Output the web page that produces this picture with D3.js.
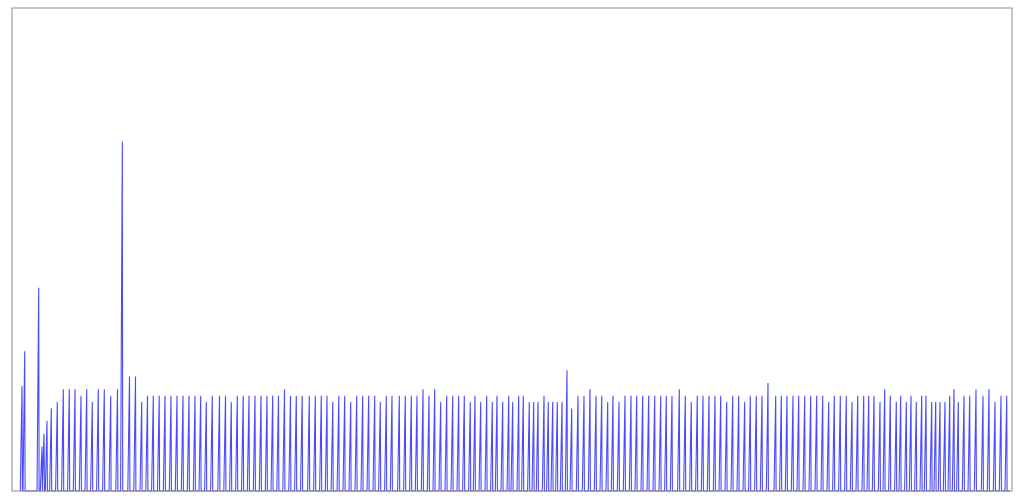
<!DOCTYPE html>
<html>
<head>
<meta charset="utf-8">
<script src="https://cdn.jsdelivr.net/npm/d3@7"></script>
<style>
  html, body { margin: 0; padding: 0; background: #fff; }
  svg { display: block; }
</style>
</head>
<body>
<svg id="chart" width="1024" height="500"></svg>
<script>
// Spike sample times (time units)
const spikeTimes = [
  10, 12.7, 26.7, 30, 32, 35, 39.3, 45.3, 51.3, 57.3, 63, 69, 74.7, 80.3, 86.3, 92.3, 98.7, 105.5, 110.3, 117.5,
  123.5, 129.7, 135.5, 141.3, 147.2, 153, 159, 165, 171, 177, 183, 188.7, 194.3, 200.3, 207.5, 213.5, 219.3, 225.3, 231.2, 237,
  243, 249, 255, 260.7, 266.5, 272.5, 278.5, 284.3, 290.2, 297.3, 303.3, 309.3, 315, 320.8, 326.8, 332.7,
  338.7, 344.7, 350.7, 356.7, 362.7, 368.3, 374.3, 380, 387.3, 393.3, 399.3, 405, 411, 417, 422.7, 428.7, 434.7, 440.7, 446.7, 452.3,
  458.3, 463, 468.7, 474.7, 480.3, 485, 490.7, 496.7, 500.7, 506.7, 511.3, 517.3, 521.7, 526, 532, 536.3, 540.7, 545.3, 550, 555,
  559.7, 566, 572, 578, 584, 589.7, 595.7, 601, 607, 613, 619, 624.7, 630.7, 636.7, 642.7, 648.7, 654.3, 660, 667.3,
  673.3, 679.3, 685.3, 691, 697, 703, 708.7, 714.7, 720.7, 726.7, 732.7, 738.3, 744.3, 750, 756, 763.7, 769.3, 775, 781, 786.7,
  792.7, 798.7, 804.7, 810.7, 816.7, 822.3, 828.3, 834.3, 840, 845.7, 851.7, 856.7, 862, 868, 872.7, 878.3, 884.3, 888.7, 894.3, 899,
  904.3, 909.7, 914, 919.7, 923.7, 928, 933, 937.7, 942, 946.3, 952, 957.7, 964, 971, 977, 983, 989, 994.7
];
// Spike values
const spikeValues = [
  16.5, 22, 32, 7, 9, 11, 13, 14, 16, 16, 16, 15, 16, 14, 16, 16, 15, 16, 55, 18,
  18, 14, 15, 15, 15, 15, 15, 15, 15, 15, 15, 15, 14, 15, 15, 15, 14, 15, 15, 15,
  15, 15, 15, 15, 15, 16, 15, 15, 15, 15, 15, 15, 15, 14, 15, 15,
  14, 15, 15, 15, 15, 14, 15, 15, 15, 15, 15, 15, 16, 15, 16, 14, 15, 15, 15, 15,
  14, 15, 14, 15, 14, 15, 14, 15, 14, 15, 15, 14, 14, 14, 15, 14, 14, 14, 14, 19,
  13, 15, 15, 16, 15, 15, 14, 15, 14, 15, 15, 15, 15, 15, 15, 15, 15, 15, 16,
  15, 14, 15, 15, 15, 15, 15, 14, 15, 15, 14, 15, 15, 15, 17, 15, 15, 15, 15, 15,
  15, 15, 15, 15, 14, 15, 15, 15, 14, 15, 15, 15, 15, 14, 16, 15, 14, 15, 14, 15,
  14, 15, 15, 14, 14, 14, 14, 15, 16, 14, 15, 15, 16, 15, 16, 14, 15, 15
];
const timeDomain = [0, 1000];
const valueDomain = [0, 76];

const svg = d3.select("#chart");
const margin = { left: 12, right: 12, top: 8, bottom: 9 };
const W = 1024, H = 500;

const x = d3.scaleLinear().domain(timeDomain).range([margin.left, W - margin.right]);
const y = d3.scaleLinear().domain(valueDomain).range([H - margin.bottom, margin.top]);

// Build line: baseline -> spike peak -> baseline for each sample
const pts = [];
spikeTimes.forEach((t, i) => {
  pts.push({ t: t - 1.7, v: 0 });
  pts.push({ t: t, v: spikeValues[i] });
  pts.push({ t: t + 0.4, v: 0 });
});
pts.push({ t: timeDomain[1] - 2, v: 0 });

const line = d3.line().x(d => x(d.t)).y(d => y(d.v));

svg.append("path")
  .datum(pts)
  .attr("fill", "none")
  .attr("stroke", "#4a4aff")
  .attr("stroke-width", 1.1)
  .attr("d", line);

// Frame
svg.append("rect")
  .attr("x", x(timeDomain[0]))
  .attr("y", y(valueDomain[1]))
  .attr("width", x(timeDomain[1]) - x(timeDomain[0]))
  .attr("height", y(valueDomain[0]) - y(valueDomain[1]))
  .attr("fill", "none")
  .attr("stroke", "#8c8c8c")
  .attr("stroke-width", 1);
</script>
</body>
</html>
